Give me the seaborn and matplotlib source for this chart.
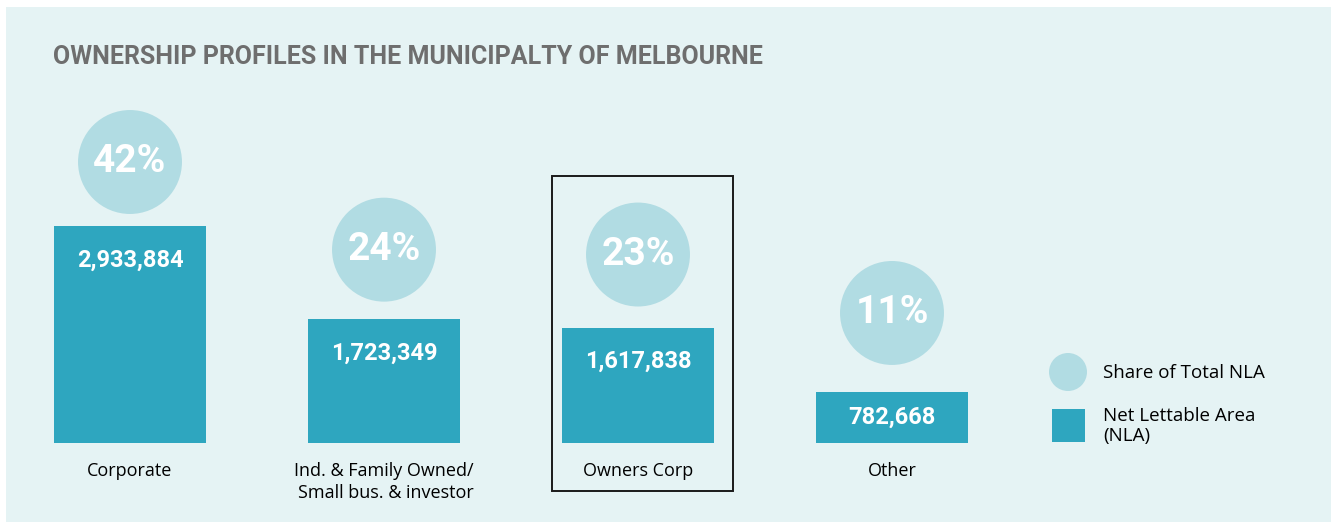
import matplotlib
matplotlib.use("Agg")
import matplotlib.pyplot as plt
import matplotlib.patches as mpatches
import seaborn as sns
import pandas as pd

# data
categories = ["Corporate", "Ind. & Family Owned/\nSmall bus. & investor", "Owners Corp", "Other"]
nla = [2933884, 1723349, 1617838, 782668]
share = [42, 24, 23, 11]
highlight = "Owners Corp"

bar_col = "#2ea6bf"
circ_col = "#b1dce3"
bg_col = "#e5f3f4"
title_col = "#6e6e6e"

sns.set_style("white")
cond = ["Roboto", "DejaVu Sans"]
plain = ["Open Sans", "DejaVu Sans"]
plt.rcParams["font.family"] = plain
plt.rcParams["text.color"] = "black"

W, H = 1338, 525
fig = plt.figure(figsize=(W / 100, H / 100), dpi=100, facecolor="white")
fig.patches.append(mpatches.Rectangle((6 / W, 3 / H), 1325 / W, 515 / H, transform=fig.transFigure,
                                      facecolor=bg_col, edgecolor="none", zorder=-10))

def box(l, t, r, b):
    return [l / W, 1 - b / H, (r - l) / W, (b - t) / H]

ax = fig.add_axes(box(0, 100, W, 443))
ax.patch.set_alpha(0)
df = pd.DataFrame({"cat": categories, "nla": nla, "share": share})
sns.barplot(data=df, x="cat", y="nla", color=bar_col, width=0.6, saturation=1, ax=ax,
            linewidth=0, zorder=2)
ax.set_xlim(-130 / 254, (W - 130) / 254)
ax.set_ylim(0.122e6, 0.122e6 + 343 / 77.2 * 1e6)
ax.set_xlabel("")
ax.set_ylabel("")
ax.set_xticks([])
ax.set_yticks([])
sns.despine(ax=ax, left=True, bottom=True)

# value labels inside bars
lo = ax.get_ylim()[0]
for i, v in enumerate(nla):
    y = max(v - 0.44e6, (v + lo) / 2)
    ax.text(i, y, f"{v:,}", ha="center", va="center", color="white",
            fontsize=17, fontweight="bold", family=cond, zorder=4)

# category labels
for i, c in enumerate(categories):
    ax.text(i, lo - 0.24e6, c, ha="center", va="top", fontsize=13, color="black",
            multialignment="right", linespacing=1.3, zorder=4)

# share circles on their own scale
ax2 = ax.twinx()
ax2.set_ylim(42 - 281 / 4.87, 42 + 62 / 4.87)
ax2.set_yticks([])
sns.despine(ax=ax2, left=True, bottom=True, right=True)
xs = list(range(len(share)))
ax2.scatter(xs, share, s=5600, color=circ_col, edgecolors="none", zorder=3)
for x, s in zip(xs, share):
    ax2.text(x, s, f"{s}%", ha="center", va="center", color="white",
             fontsize=28, fontweight="bold", family=cond, zorder=4)

# highlight frame
hi = categories.index(highlight)
ax.add_patch(mpatches.Rectangle((hi - 0.34, -0.5e6), 0.713, 4.08e6, fill=False,
                                edgecolor="#1a1a1a", linewidth=1.4, clip_on=False, zorder=5))

# title
fig.text(53 / W, 1 - 57 / H, "OWNERSHIP PROFILES IN THE MUNICIPALTY OF MELBOURNE",
         ha="left", va="center", fontsize=18, fontweight="bold", color=title_col, family=cond)

# legend
fig.patches.append(mpatches.Ellipse((1068 / W, 1 - 372 / H), 38 / W, 38 / H, transform=fig.transFigure,
                                    facecolor=circ_col, edgecolor="none"))
fig.patches.append(mpatches.Rectangle((1052 / W, 1 - 442 / H), 33 / W, 33 / H, transform=fig.transFigure,
                                      facecolor=bar_col, edgecolor="none"))
fig.text(1103 / W, 1 - 373 / H, "Share of Total NLA", ha="left", va="center", fontsize=13.5)
fig.text(1103 / W, 1 - 426 / H, "Net Lettable Area\n(NLA)", ha="left", va="center", fontsize=13.5,
         linespacing=1.1)

fig.savefig("out.png", dpi=100, facecolor="white")
